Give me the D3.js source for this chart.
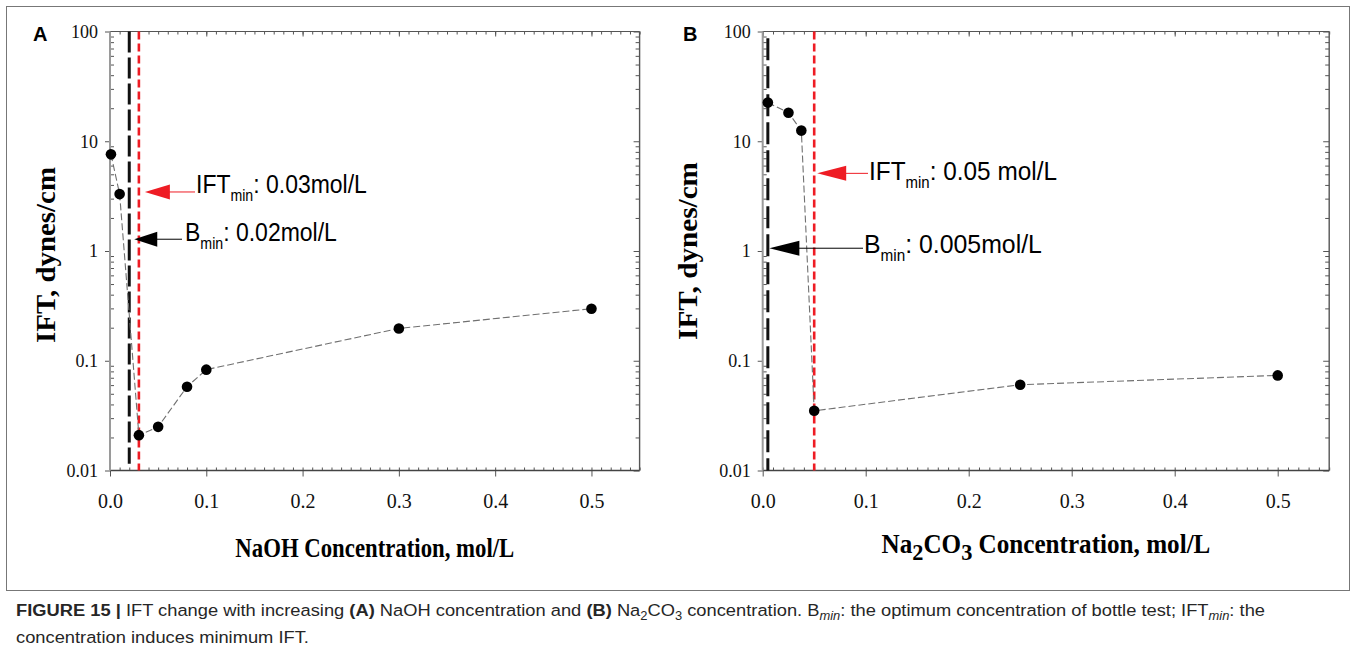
<!DOCTYPE html>
<html>
<head>
<meta charset="utf-8">
<script src="https://cdn.jsdelivr.net/npm/d3@7/dist/d3.min.js"></script>
<style>
  html, body { margin: 0; padding: 0; background: #fff; }
  svg { display: block; }
</style>
</head>
<body>
<script>
(function () {
  'use strict';

  // ---- data ----
  var naohConc = [0.001, 0.01, 0.03, 0.05, 0.08, 0.1, 0.3, 0.5];
  var naohIFT = [7.6, 3.3, 0.021, 0.025, 0.058, 0.083, 0.197, 0.298];
  var na2co3Conc = [0.005, 0.025, 0.0375, 0.05, 0.25, 0.5];
  var na2co3IFT = [22.5, 18.2, 12.5, 0.035, 0.0605, 0.0735];

  var xTicks = [0, 0.1, 0.2, 0.3, 0.4, 0.5];
  var xTickLabels = ['0.0', '0.1', '0.2', '0.3', '0.4', '0.5'];
  var yTicks = [0.01, 0.1, 1, 10, 100];
  var yTickLabels = ['0.01', '0.1', '1', '10', '100'];

  // vertical marker lines: Bmin (black) and IFTmin (red)
  var naohBmin = 0.02, naohIFTmin = 0.03;
  var na2co3Bmin = 0.005, na2co3IFTmin = 0.05;

  var w = 1357, h = 652;
  var plotTop = 31.5, plotBottom = 470.5;

  var svg = d3.select('body').append('svg')
    .attr('width', w)
    .attr('height', h);

  // figure frame
  svg.append('rect')
    .attr('x', 6.5).attr('y', 6.5)
    .attr('width', 1343).attr('height', 584)
    .attr('fill', 'none')
    .attr('stroke', '#777')
    .attr('stroke-width', 1);

  var panels = [
    {
      id: 'A', left: 110, right: 639.6,
      conc: naohConc, ift: naohIFT,
      titleX: 55, titleY: 255, titleW: 176,
      xTitle: [{t: 'NaOH Concentration, mol/L'}], xTitleY: 557, xTitleW: 279,
      vlines: [
        {x: naohBmin, y0: 0.0115, y1: 100, color: '#111', width: 3, dash: '21,5'},
        {x: naohIFTmin, y0: 0.01, y1: 100, color: '#ee1c24', width: 2.6, dash: '8,4'}
      ],
      notes: [
        {line: naohIFTmin, at: 3.45, tipDx: 6, triW: 25, lineEnd: 195, textX: 196, textW: 171,
          color: '#ee1c24', main: 'IFT', rest: ': 0.03mol/L', baseDy: 1},
        {line: naohBmin, at: 1.28, tipDx: 5, triW: 23, lineEnd: 182, textX: 185, textW: 152,
          color: '#000', main: 'B', rest: ': 0.02mol/L', baseDy: 2}
      ]
    },
    {
      id: 'B', left: 762.7, right: 1329.2,
      conc: na2co3Conc, ift: na2co3IFT,
      titleX: 697, titleY: 251, titleW: 178,
      xTitle: [{t: 'Na'}, {t: '2', sub: true}, {t: 'CO'}, {t: '3', sub: true}, {t: ' Concentration, mol/L'}],
      xTitleY: 553, xTitleW: 329,
      vlines: [
        {x: na2co3Bmin, y0: 0.01, y1: 87, color: '#111', width: 3, dash: '22,6'},
        {x: na2co3IFTmin, y0: 0.01, y1: 100, color: '#ee1c24', width: 2.6, dash: '8,4'}
      ],
      notes: [
        {line: na2co3IFTmin, at: 5.1, tipDx: 3, triW: 29, lineEnd: 868, textX: 869, textW: 188,
          color: '#ee1c24', main: 'IFT', rest: ': 0.05 mol/L', baseDy: 7},
        {line: na2co3Bmin, at: 1.06, tipDx: 1.5, triW: 30, lineEnd: 863, textX: 864, textW: 178,
          color: '#000', main: 'B', rest: ': 0.005mol/L', baseDy: 5}
      ]
    }
  ];

  function fitGroup(g, text, x, y, target, extra) {
    var len = text.node().getComputedTextLength();
    var s = target / len;
    g.attr('transform', 'translate(' + x + ',' + y + ')' + (extra || '') + ' scale(' + s + ',1)');
  }

  panels.forEach(function (p) {
    var x = d3.scaleLinear().domain([0, 0.55]).range([p.left, p.right]);
    var y = d3.scaleLog().domain([0.01, 100]).range([plotBottom, plotTop]);

    var minorX = d3.range(0, 56).map(function (i) { return i / 100; });
    var minorY = [];
    [0.01, 0.1, 1, 10].forEach(function (dec) {
      for (var k = 2; k <= 9; k++) minorY.push(dec * k);
    });

    var g = svg.append('g').attr('class', 'panel-' + p.id);

    function axisG(axis, tx, ty) {
      var a = g.append('g')
        .attr('transform', 'translate(' + tx + ',' + ty + ')')
        .call(axis);
      a.select('.domain').remove();
      a.selectAll('.tick line').attr('stroke', '#555').attr('stroke-width', 1);
      return a;
    }

    // minor ticks, all pointing in
    axisG(d3.axisBottom(x).tickValues(minorX).tickSize(-3).tickFormat(''), 0, plotBottom);
    axisG(d3.axisTop(x).tickValues(minorX).tickSize(-3).tickFormat(''), 0, plotTop);
    axisG(d3.axisTop(x).tickValues(xTicks).tickSize(-5).tickFormat(''), 0, plotTop);
    axisG(d3.axisLeft(y).tickValues(minorY).tickSize(-4).tickFormat(''), p.left, 0);
    axisG(d3.axisRight(y).tickValues(minorY).tickSize(-4).tickFormat(''), p.right, 0);
    axisG(d3.axisRight(y).tickValues(yTicks).tickSize(-6).tickFormat(''), p.right, 0);

    // major ticks with labels
    var xb = axisG(d3.axisBottom(x).tickValues(xTicks).tickSize(6).tickPadding(17)
      .tickFormat(function (d, i) { return xTickLabels[i]; }), 0, plotBottom);
    xb.selectAll('text')
      .attr('font-family', '"Liberation Serif", "Times New Roman", serif')
      .attr('font-size', 20).attr('fill', '#111');

    var yl = axisG(d3.axisLeft(y).tickValues(yTicks).tickSize(5).tickPadding(7)
      .tickFormat(function (d, i) { return yTickLabels[i]; }), p.left, 0);
    yl.selectAll('text')
      .attr('font-family', '"Liberation Serif", "Times New Roman", serif')
      .attr('font-size', 18).attr('fill', '#111');

    // frame
    g.append('line').attr('x1', p.left).attr('x2', p.right).attr('y1', plotTop).attr('y2', plotTop)
      .attr('stroke', '#555').attr('stroke-width', 1.2);
    g.append('line').attr('x1', p.right).attr('x2', p.right).attr('y1', plotTop).attr('y2', plotBottom)
      .attr('stroke', '#555').attr('stroke-width', 1.4);
    g.append('line').attr('x1', p.left).attr('x2', p.right).attr('y1', plotBottom).attr('y2', plotBottom)
      .attr('stroke', '#444').attr('stroke-width', 1.3);
    g.append('line').attr('x1', p.left).attr('x2', p.left).attr('y1', plotTop).attr('y2', plotBottom)
      .attr('stroke', '#9a9a9a').attr('stroke-width', 2);

    // vertical marker lines
    g.selectAll('line.vl').data(p.vlines).enter().append('line')
      .attr('class', 'vl')
      .attr('x1', function (d) { return x(d.x); })
      .attr('x2', function (d) { return x(d.x); })
      .attr('y1', function (d) { return y(d.y1); })
      .attr('y2', function (d) { return y(d.y0); })
      .attr('stroke', function (d) { return d.color; })
      .attr('stroke-width', function (d) { return d.width; })
      .attr('stroke-dasharray', function (d) { return d.dash; });

    // series
    var pts = p.conc.map(function (c, i) { return [c, p.ift[i]]; });
    g.append('path')
      .datum(pts)
      .attr('fill', 'none')
      .attr('stroke', '#707070')
      .attr('stroke-width', 1.1)
      .attr('stroke-dasharray', '7,3')
      .attr('d', d3.line().x(function (d) { return x(d[0]); }).y(function (d) { return y(d[1]); }));

    g.selectAll('circle').data(pts).enter().append('circle')
      .attr('cx', function (d) { return x(d[0]); })
      .attr('cy', function (d) { return y(d[1]); })
      .attr('r', 5.3)
      .attr('fill', '#000');

    // annotations
    p.notes.forEach(function (n) {
      var tipX = x(n.line) + n.tipDx;
      var ty = y(n.at);
      g.append('line')
        .attr('x1', tipX + n.triW - 1).attr('x2', n.lineEnd)
        .attr('y1', ty).attr('y2', ty)
        .attr('stroke', n.color).attr('stroke-width', 1);
      g.append('path')
        .attr('d', 'M' + tipX + ',' + ty + 'L' + (tipX + n.triW) + ',' + (ty - 7.5) +
          'L' + (tipX + n.triW) + ',' + (ty + 7.5) + 'Z')
        .attr('fill', n.color);
      var tg = g.append('g');
      var t = tg.append('text')
        .attr('font-family', '"Liberation Sans", Arial, sans-serif')
        .attr('font-size', 26)
        .attr('fill', '#000');
      t.append('tspan').text(n.main);
      t.append('tspan').attr('font-size', 16).attr('dy', 8).text('min');
      t.append('tspan').attr('dy', -8).text(n.rest);
      fitGroup(tg, t, n.textX, ty + n.baseDy, n.textW);
    });

    // panel letter
    g.append('text')
      .attr('x', p.id === 'A' ? 33 : 683)
      .attr('y', 41)
      .attr('font-family', '"Liberation Sans", Arial, sans-serif')
      .attr('font-weight', 'bold')
      .attr('font-size', 20)
      .text(p.id);

    // y title
    var yg = g.append('g');
    var yt = yg.append('text')
      .attr('text-anchor', 'middle')
      .attr('font-family', '"Liberation Serif", "Times New Roman", serif')
      .attr('font-weight', 'bold')
      .attr('font-size', 27)
      .text('IFT, dynes/cm');
    fitGroup(yg, yt, p.titleX, p.titleY, p.titleW, ' rotate(-90)');

    // x title
    var xg = g.append('g');
    var xt = xg.append('text')
      .attr('text-anchor', 'middle')
      .attr('font-family', '"Liberation Serif", "Times New Roman", serif')
      .attr('font-weight', 'bold')
      .attr('font-size', 27);
    var shift = 0;
    p.xTitle.forEach(function (s) {
      var want = s.sub ? 7 : 0;
      var ts = xt.append('tspan').attr('dy', want - shift).text(s.t);
      if (s.sub) ts.attr('font-size', 24);
      shift = want;
    });
    fitGroup(xg, xt, (p.left + p.right) / 2, p.xTitleY, p.xTitleW);
  });

  // ---- caption ----
  var cap1 = [
    {t: 'FIGURE 15', b: true}, {t: ' | ', b: true},
    {t: 'IFT change with increasing '}, {t: '(A)', b: true},
    {t: ' NaOH concentration and '}, {t: '(B)', b: true},
    {t: ' Na'}, {t: '2', sub: true}, {t: 'CO'}, {t: '3', sub: true},
    {t: ' concentration. B'}, {t: 'min', sub: true, i: true},
    {t: ': the optimum concentration of bottle test; IFT'}, {t: 'min', sub: true, i: true},
    {t: ': the'}
  ];
  var cap2 = [{t: 'concentration induces minimum IFT.'}];

  function captionLine(segs) {
    var cg = svg.append('g');
    var ct = cg.append('text')
      .attr('font-family', '"Liberation Sans", Arial, sans-serif')
      .attr('font-size', 17)
      .attr('fill', '#262626');
    var shift = 0;
    segs.forEach(function (s) {
      var want = s.sub ? 4 : 0;
      var ts = ct.append('tspan').attr('dy', want - shift).text(s.t);
      if (s.b) ts.attr('font-weight', 'bold');
      if (s.i) ts.attr('font-style', 'italic');
      if (s.sub) ts.attr('font-size', 12);
      shift = want;
    });
    return {g: cg, t: ct};
  }
  var l1 = captionLine(cap1);
  var l2 = captionLine(cap2);
  var sc = 1250 / l1.t.node().getComputedTextLength();
  l1.g.attr('transform', 'translate(16,616) scale(' + sc + ',1)');
  l2.g.attr('transform', 'translate(16,643) scale(' + sc + ',1)');
})();
</script>
</body>
</html>
